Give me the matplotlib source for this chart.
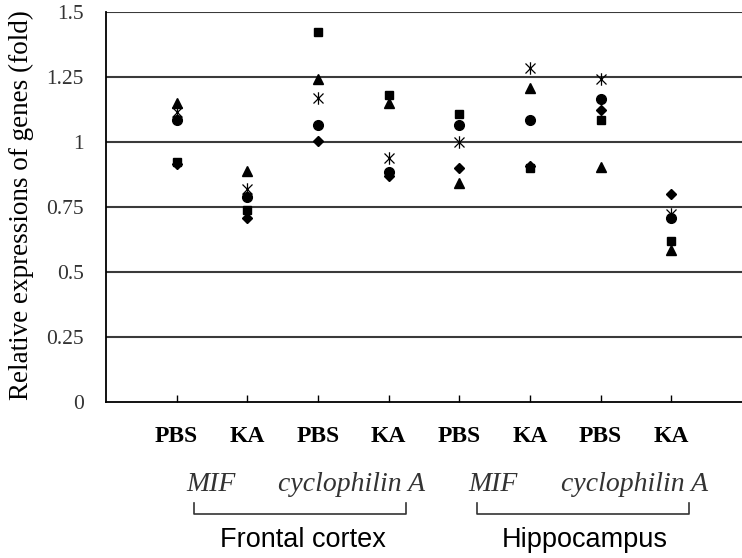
import matplotlib
matplotlib.use('Agg')
import matplotlib.pyplot as plt
from matplotlib.path import Path

### DATA ====

conditions = ['PBS', 'KA', 'PBS', 'KA', 'PBS', 'KA', 'PBS', 'KA']
genes = ['MIF', 'cyclophilin A', 'MIF', 'cyclophilin A']
regions = ['Frontal cortex', 'Hippocampus']

# one array per marker series
diamond_vals = [0.915, 0.71, 1.005, 0.87, 0.90, 0.91, 1.125, 0.80]
square_vals = [0.925, 0.74, 1.425, 1.18, 1.11, 0.90, 1.085, 0.62]
triangle_vals = [1.15, 0.89, 1.245, 1.15, 0.845, 1.21, 0.905, 0.585]
star_vals = [1.115, 0.82, 1.17, 0.94, 1.00, 1.285, 1.245, 0.725]
circle_vals = [1.085, 0.79, 1.065, 0.885, 1.065, 1.085, 1.165, 0.71]

yticks = [0, 0.25, 0.5, 0.75, 1, 1.25, 1.5]
ytick_labels = ['0', '0.25', '0.5', '0.75', '1', '1.25', '1.5']


### PLOT ====

fig = plt.figure(figsize=(7.42, 5.58), dpi=100)
ax = fig.add_axes([106 / 742, 1 - 402.3 / 558, 1 - 106 / 742, 390 / 558])

x = list(range(1, len(conditions) + 1))

# excel-like star: an x with a vertical bar
star = Path([(-1, -1), (1, 1), (-1, 1), (1, -1), (0, -1.25), (0, 1.25)],
            [Path.MOVETO, Path.LINETO, Path.MOVETO, Path.LINETO,
             Path.MOVETO, Path.LINETO])

ax.plot(x, diamond_vals, 'D', color='black', ms=5.5, ls='none', zorder=3)
ax.plot(x, square_vals, 's', color='black', ms=6.3, ls='none', zorder=3)
ax.plot(x, triangle_vals, '^', color='black', ms=7, ls='none', zorder=3)
ax.plot(x, star_vals, marker=star, color='black', mfc='none', ms=9,
        mew=0.9, ls='none', zorder=3)
ax.plot(x, circle_vals, 'o', color='black', ms=7, ls='none', zorder=3)

ax.set_xlim(0, 9)
ax.set_ylim(0, 1.5)

for v in yticks[1:]:
  ax.axhline(v, color='#3a3a3a', lw=1.5, zorder=1)

ax.set_yticks(yticks)
ax.set_yticklabels(ytick_labels, family='Liberation Serif', fontsize=15.5,
                   color='#333333')
ax.tick_params(axis='y', length=0, pad=16)

ax.set_xticks(x)
ax.set_xticklabels(conditions, family='Liberation Serif', fontsize=17,
                   fontweight='bold')
ax.tick_params(axis='x', direction='in', length=5, width=1, pad=17)

for s in ['top', 'right']:
  ax.spines[s].set_visible(False)
ax.spines['left'].set_linewidth(1.3)
ax.spines['bottom'].set_linewidth(1.3)

fig.text(21 / 742, 1 - 205 / 558, 'Relative expressions of genes (fold)',
         rotation=90, ha='center', va='center', family='Liberation Serif',
         fontsize=19.5)

# gene labels, brackets and region labels below the axis
tr = ax.get_xaxis_transform()
for i, g in enumerate(genes):
  ax.text(1.48 + 2 * i, -0.212, g, transform=tr, ha='center', va='center',
          family='Liberation Serif', style='italic', fontsize=20,
          color='#333333')

for i, r in enumerate(regions):
  x0 = 1.25 + 4 * i
  x1 = x0 + 3.0
  ax.plot([x0, x0, x1, x1], [-0.257, -0.287, -0.287, -0.257], transform=tr,
          color='#333333', lw=1.2, clip_on=False)
  ax.text(x0 + 1.53, -0.353, r, transform=tr, ha='center', va='center',
          family='Liberation Sans', fontsize=19.5)

fig.savefig('out.png', dpi=100)
